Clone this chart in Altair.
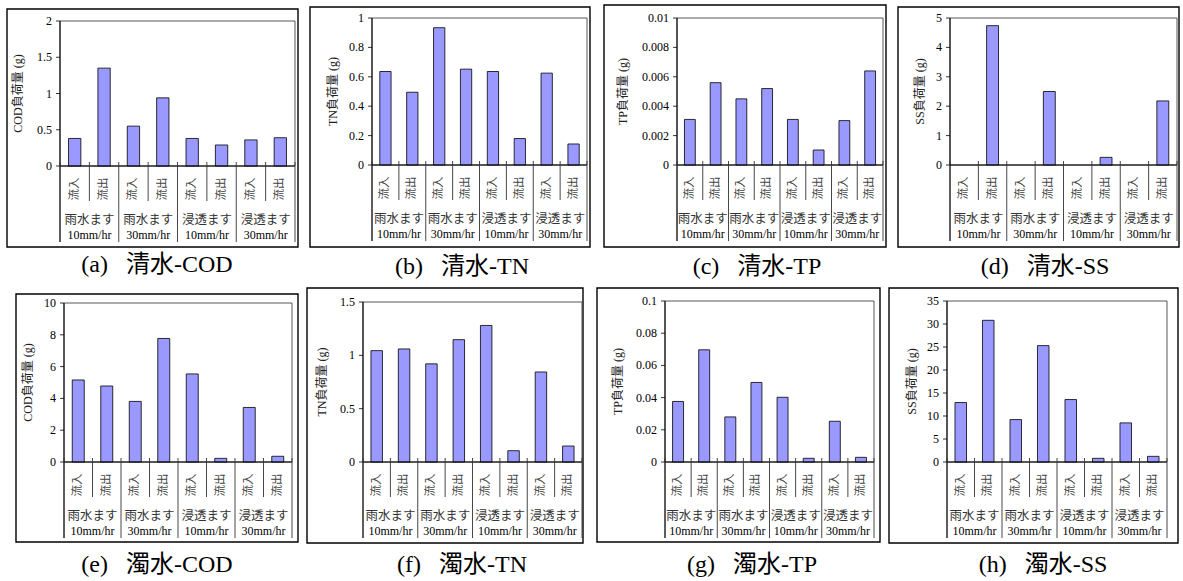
import altair as alt
import pandas as pd

# ---------------- data ----------------
flows = ["流入", "流出", "流入", "流出", "流入", "流出", "流入", "流出"]
groups = ["雨水ます", "雨水ます", "雨水ます", "雨水ます", "浸透ます", "浸透ます", "浸透ます", "浸透ます"]
intensities = ["10mm/hr", "10mm/hr", "30mm/hr", "30mm/hr", "10mm/hr", "10mm/hr", "30mm/hr", "30mm/hr"]

clear_cod = [0.38, 1.35, 0.55, 0.94, 0.38, 0.29, 0.36, 0.39]
clear_tn = [0.636, 0.495, 0.934, 0.652, 0.636, 0.18, 0.625, 0.143]
clear_tp = [0.0031, 0.0056, 0.0045, 0.0052, 0.0031, 0.00102, 0.00302, 0.0064]
clear_ss = [0, 4.74, 0, 2.5, 0, 0.26, 0, 2.18]
muddy_cod = [5.16, 4.78, 3.81, 7.77, 5.54, 0.23, 3.43, 0.36]
muddy_tn = [1.044, 1.06, 0.92, 1.147, 1.28, 0.106, 0.844, 0.15]
muddy_tp = [0.0376, 0.0697, 0.028, 0.0494, 0.0402, 0.0023, 0.0253, 0.0029]
muddy_ss = [12.93, 30.8, 9.22, 25.3, 13.58, 0.8, 8.5, 1.23]

ticks_cod_c = [0, 0.5, 1, 1.5, 2]
labels_cod_c = ["0", "0.5", "1", "1.5", "2"]
ticks_tn_c = [0, 0.2, 0.4, 0.6, 0.8, 1]
labels_tn_c = ["0", "0.2", "0.4", "0.6", "0.8", "1"]
ticks_tp_c = [0, 0.002, 0.004, 0.006, 0.008, 0.01]
labels_tp_c = ["0", "0.002", "0.004", "0.006", "0.008", "0.01"]
ticks_ss_c = [0, 1, 2, 3, 4, 5]
labels_ss_c = ["0", "1", "2", "3", "4", "5"]
ticks_cod_m = [0, 2, 4, 6, 8, 10]
labels_cod_m = ["0", "2", "4", "6", "8", "10"]
ticks_tn_m = [0, 0.5, 1, 1.5]
labels_tn_m = ["0", "0.5", "1", "1.5"]
ticks_tp_m = [0, 0.02, 0.04, 0.06, 0.08, 0.1]
labels_tp_m = ["0", "0.02", "0.04", "0.06", "0.08", "0.1"]
ticks_ss_m = [0, 5, 10, 15, 20, 25, 30, 35]
labels_ss_m = ["0", "5", "10", "15", "20", "25", "30", "35"]

ytitles = ["COD負荷量 (g)", "TN負荷量 (g)", "TP負荷量 (g)", "SS負荷量 (g)"] * 2
SP = "\u2002\u00a0"
captions = [f"(a){SP}清水-COD", f"(b){SP}清水-TN", f"(c){SP}清水-TP", f"(d){SP}清水-SS",
            f"(e){SP}濁水-COD", f"(f){SP}濁水-TN", f"(g){SP}濁水-TP", f"(h){SP}濁水-SS"]

series = [clear_cod, clear_tn, clear_tp, clear_ss, muddy_cod, muddy_tn, muddy_tp, muddy_ss]
tick_sets = [(ticks_cod_c, labels_cod_c), (ticks_tn_c, labels_tn_c), (ticks_tp_c, labels_tp_c),
             (ticks_ss_c, labels_ss_c), (ticks_cod_m, labels_cod_m), (ticks_tn_m, labels_tn_m),
             (ticks_tp_m, labels_tp_m), (ticks_ss_m, labels_ss_m)]

# ---------------- layout (pixels) ----------------
# outer box: (left, right, top, bottom); plot area: (left, right, top, bottom)
boxes = [(7, 298, 9, 247), (310, 590, 7, 247), (604, 886, 5, 247), (898, 1179, 7, 247),
         (16, 298, 294, 542), (307, 583, 288, 543), (597, 880, 288, 542), (889, 1178, 288, 543)]
plots = [(60, 295, 21, 166), (372, 587, 18, 165), (677, 883, 18, 165), (950, 1177, 18, 165),
         (64, 292, 303, 462), (363, 582, 302, 462), (665, 874, 301, 462), (947, 1167, 301, 462)]
title_dx = [-42, -39, -54, -30, -36, -41, -47, -35]
cap_pos = [(157, 265), (462, 267), (757, 267), (1045, 267),
           (157, 565), (462, 565), (752, 565), (1043, 565)]

SERIF = "Times New Roman, Liberation Serif, Noto Sans CJK JP, serif"
CJK = "Noto Sans CJK JP, sans-serif"

keys = [f"{g}{i}-{f}" for g, i, f in zip(groups, intensities, flows)]
one = pd.DataFrame({"a": [0]})


def make_panel(idx):
    L, R, T, B = plots[idx]
    bx0, bx1, by0, by1 = boxes[idx]
    ticks, tlabels = tick_sets[idx]
    ymax = ticks[-1]
    xs = alt.Scale(domain=keys, range=[L, R], paddingInner=0, paddingOuter=0)
    ys = alt.Scale(domain=[0, ymax], range=[B, T], nice=False, zero=True)
    df = pd.DataFrame({"key": keys, "flow": flows, "grp": groups, "inten": intensities,
                       "v": series[idx], "pos": list(range(8))})
    tdf = pd.DataFrame({"t": ticks, "lab": tlabels})

    X = lambda **kw: alt.X("key:N", scale=xs, axis=None, **kw)

    outer = alt.Chart(one).mark_rect(filled=False, stroke="black", strokeWidth=1.4).encode(
        x=alt.value(bx0), x2=alt.value(bx1), y=alt.value(by0), y2=alt.value(by1))
    frame = alt.Chart(one).mark_rect(filled=False, stroke="#444444", strokeWidth=0.9).encode(
        x=alt.value(L), x2=alt.value(R), y=alt.value(T), y2=alt.value(B))
    bars = alt.Chart(df[df["v"] > 0]).mark_bar(
        width=alt.RelativeBandSize(0.42), color="#9999FF", stroke="black", strokeWidth=0.8
    ).encode(x=X(), y=alt.Y("v:Q", scale=ys, axis=None))
    baseline = alt.Chart(one).mark_rule(color="black", strokeWidth=1).encode(
        x=alt.value(L), x2=alt.value(R), y=alt.value(B))
    yline = alt.Chart(one).mark_rule(color="black", strokeWidth=1).encode(
        x=alt.value(L), y=alt.value(T), y2=alt.value(B + 76))
    yticks = alt.Chart(tdf).mark_rule(color="black", strokeWidth=0.8).encode(
        y=alt.Y("t:Q", scale=ys, axis=None), x=alt.value(L - 4), x2=alt.value(L))
    ylabels = alt.Chart(tdf).mark_text(align="right", baseline="middle", font=SERIF,
                                       fontSize=12, color="black").encode(
        y=alt.Y("t:Q", scale=ys, axis=None), x=alt.value(L - 8), text="lab:N")
    ytitle = alt.Chart(one).mark_text(angle=270, align="center", baseline="middle", font=SERIF,
                                      fontSize=12, color="#222222", text=ytitles[idx]).encode(
        x=alt.value(L + title_dx[idx]), y=alt.value((T + B) / 2))
    sep_short = alt.Chart(df[df["pos"] % 2 == 1]).mark_rule(color="#333333", strokeWidth=0.9).encode(
        x=X(bandPosition=0), y=alt.value(B - 4), y2=alt.value(B + 35))
    sep_long = alt.Chart(df[df["pos"] % 2 == 0]).mark_rule(color="#333333", strokeWidth=0.9).encode(
        x=X(bandPosition=0), y=alt.value(B - 4), y2=alt.value(B + 76))
    sep_end = alt.Chart(df[df["pos"] == 7]).mark_rule(color="#333333", strokeWidth=0.9).encode(
        x=X(bandPosition=1), y=alt.value(B - 4), y2=alt.value(B + 76))
    flow_lab = alt.Chart(df).mark_text(angle=270, align="center", baseline="middle", font=CJK,
                                       fontSize=11.5, color="#444444").encode(
        x=X(), y=alt.value(B + 23), text="flow:N")
    firsts = df[df["flow"] == "流入"]
    grp_lab = alt.Chart(firsts).mark_text(align="center", baseline="middle", font=CJK,
                                          fontSize=12.5, color="#333333").encode(
        x=X(bandPosition=1), y=alt.value(B + 54), text="grp:N")
    int_lab = alt.Chart(firsts).mark_text(align="center", baseline="middle", font=SERIF,
                                          fontSize=12, color="black").encode(
        x=X(bandPosition=1), y=alt.value(B + 69), text="inten:N")
    cx, cy = cap_pos[idx]
    caption = alt.Chart(one).mark_text(align="center", baseline="middle", font=SERIF,
                                       fontSize=24, color="black", text=captions[idx]).encode(
        x=alt.value(cx), y=alt.value(cy))
    return alt.layer(outer, frame, bars, baseline, yline, yticks, ylabels, ytitle,
                     sep_short, sep_long, sep_end, flow_lab, grp_lab, int_lab, caption)


chart = alt.layer(*[make_panel(i) for i in range(8)]).resolve_scale(
    x="independent", y="independent"
).properties(
    width=1183, height=581, padding=0,
    autosize=alt.AutoSizeParams(type="none"),
    background="white",
).configure_view(stroke=None)

chart.save("out.html", embed_options={"renderer": "svg", "actions": False})
